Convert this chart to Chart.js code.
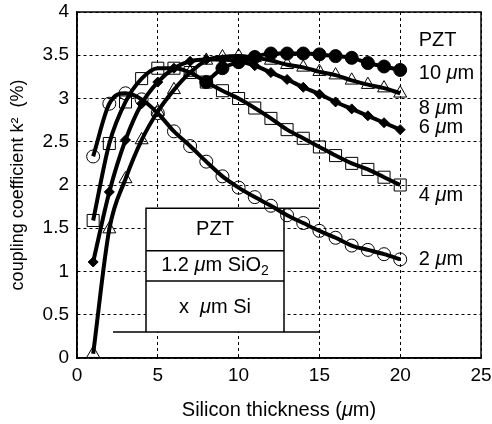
<!DOCTYPE html>
<html lang="en">
<head>
  <meta charset="UTF-8">
  <title>Coupling coefficient vs silicon thickness</title>
  <script src="https://cdn.jsdelivr.net/npm/chart.js@4.4.0/dist/chart.umd.min.js"></script>
  <style>
    html, body { margin: 0; padding: 0; background: #fff; }
    #wrap { width: 492px; height: 424px; }
  </style>
</head>
<body>
  <div id="wrap"><canvas id="k2Chart" width="492" height="424"></canvas></div>
  <script>
    // silicon thickness (um)
    const siThickness = [1, 2, 3, 4, 5, 6, 7, 8, 9, 10, 11, 12, 13, 14, 15, 16, 17, 18, 19, 20];

    // k^2 (%) for each PZT thickness
    const k2Pzt2 = [2.33, 2.94, 3.06, 2.99, 2.83, 2.62, 2.45, 2.27, 2.10, 1.97, 1.86, 1.76, 1.65, 1.56, 1.47, 1.39, 1.30, 1.25, 1.20, 1.14];
    const k2Pzt4 = [1.59, 2.48, 2.96, 3.23, 3.35, 3.35, 3.30, 3.19, 3.09, 3.00, 2.89, 2.77, 2.64, 2.54, 2.44, 2.34, 2.25, 2.18, 2.09, 2.00];
    const k2Pzt6 = [1.11, 1.92, 2.52, 2.94, 3.19, 3.35, 3.43, 3.45, 3.45, 3.43, 3.38, 3.30, 3.22, 3.13, 3.05, 2.96, 2.88, 2.80, 2.72, 2.64];
    const k2Pzt8 = [0.05, 1.49, 2.07, 2.52, 2.85, 3.10, 3.30, 3.44, 3.48, 3.49, 3.47, 3.44, 3.39, 3.36, 3.31, 3.27, 3.21, 3.16, 3.12, 3.06];
    const k2Pzt10 = [null, null, null, null, null, null, null, 3.19, 3.35, 3.42, 3.48, 3.52, 3.52, 3.52, 3.51, 3.49, 3.47, 3.41, 3.37, 3.33];

    const yTicks = [0, 0.5, 1, 1.5, 2, 2.5, 3, 3.5, 4];

    // curve labels at the right end: [text before mu, y value]
    const curveLabels = [["10 ", 3.29], ["8 ", 2.89], ["6 ", 2.66], ["4 ", 1.88], ["2 ", 1.14]];

    const FONT = "'Liberation Sans', Arial, Helvetica, sans-serif";

    function toPoints(ys) {
      return siThickness.map((x, i) => ({ x: x, y: ys[i] }));
    }

    function series(label, ys, style, radius, filled) {
      return {
        label: label,
        data: toPoints(ys),
        borderColor: "#000",
        borderWidth: 4,
        pointStyle: style,
        pointRadius: radius,
        pointBorderWidth: 1,
        pointBorderColor: "#000",
        pointBackgroundColor: filled ? "#000" : "rgba(0,0,0,0)",
        cubicInterpolationMode: "monotone",
        spanGaps: false
      };
    }

    // draws text pieces in a row, mu in italic, optional size / offset per piece
    function drawMixed(ctx, parts, x, y, size, align) {
      let total = 0;
      const fontOf = p => (p.italic ? "italic " : "") + (p.size || size) + "px " + FONT;
      parts.forEach(p => {
        ctx.font = fontOf(p);
        p.w = ctx.measureText(p.t).width;
        total += p.w;
      });
      let cx = align === "center" ? x - total / 2 : x;
      parts.forEach(p => {
        ctx.font = fontOf(p);
        ctx.textAlign = "left";
        ctx.fillText(p.t, cx, y + (p.dy || 0));
        cx += p.w;
      });
    }

    const framePlugin = {
      id: "frame",
      beforeDatasetsDraw(chart) {
        const ctx = chart.ctx;
        const xs = chart.scales.x, ys = chart.scales.y;
        // layer stack inset
        const L = xs.getPixelForValue(4.27), R = xs.getPixelForValue(12.81);
        const T = ys.getPixelForValue(1.73), B = ys.getPixelForValue(0.30);
        const d1 = ys.getPixelForValue(1.24), d2 = ys.getPixelForValue(0.89);
        const ext = xs.getPixelForValue(15), bl = xs.getPixelForValue(2.23);
        ctx.save();
        ctx.fillStyle = "#fff";
        ctx.fillRect(L, T, R - L, B - T);
        ctx.strokeStyle = "#000";
        ctx.lineWidth = 1.5;
        ctx.beginPath();
        ctx.moveTo(L, B); ctx.lineTo(L, T); ctx.lineTo(ext, T);
        ctx.moveTo(R, T); ctx.lineTo(R, B);
        ctx.moveTo(L, d1); ctx.lineTo(R, d1);
        ctx.moveTo(L, d2); ctx.lineTo(R, d2);
        ctx.moveTo(bl, B); ctx.lineTo(ext, B);
        ctx.stroke();
        ctx.fillStyle = "#000";
        ctx.textBaseline = "middle";
        const cx = (L + R) / 2;
        drawMixed(ctx, [{ t: "PZT" }], cx, (T + d1) / 2, 20, "center");
        drawMixed(ctx, [{ t: "1.2 " }, { t: "\u03bc", italic: true }, { t: "m SiO" }, { t: "2", dy: 5, size: 14 }], cx, (d1 + d2) / 2, 20, "center");
        drawMixed(ctx, [{ t: "x  " }, { t: "\u03bc", italic: true }, { t: "m Si" }], cx, (d2 + B) / 2 + 1, 20, "center");
        ctx.restore();
      },
      afterDraw(chart) {
        const ctx = chart.ctx;
        const a = chart.chartArea;
        const xs = chart.scales.x, ys = chart.scales.y;
        ctx.save();
        ctx.strokeStyle = "#000";
        ctx.lineWidth = 1.5;
        ctx.strokeRect(a.left, a.top, a.right - a.left, a.bottom - a.top);
        ctx.fillStyle = "#000";
        ctx.textBaseline = "middle";
        const lx = xs.getPixelForValue(21.15);
        drawMixed(ctx, [{ t: "PZT" }], lx, ys.getPixelForValue(3.67), 20, "left");
        curveLabels.forEach(([t, v]) => {
          drawMixed(ctx, [{ t: t }, { t: "\u03bc", italic: true }, { t: "m" }], lx, ys.getPixelForValue(v), 20, "left");
        });
        // x axis title with italic mu
        drawMixed(ctx, [{ t: "Silicon thickness (" }, { t: "\u03bc", italic: true }, { t: "m)" }], (a.left + a.right) / 2, 410, 20, "center");
        ctx.restore();
      }
    };

    new Chart(document.getElementById("k2Chart"), {
      type: "line",
      data: {
        datasets: [
          series("2 um", k2Pzt2, "circle", 6.5, false),
          series("4 um", k2Pzt4, "rect", 8.5, false),
          series("6 um", k2Pzt6, "rectRot", 5, true),
          series("8 um", k2Pzt8, "triangle", 7.5, false),
          series("10 um", k2Pzt10, "circle", 6.5, true)
        ]
      },
      options: {
        responsive: false,
        animation: false,
        layout: { padding: { top: 12, right: 11, left: 0, bottom: 0 } },
        plugins: { legend: { display: false }, tooltip: { enabled: false } },
        scales: {
          x: {
            type: "linear",
            min: 0, max: 25,
            ticks: { stepSize: 5, color: "#000", font: { family: FONT, size: 19 }, padding: 6, maxRotation: 0 },
            grid: { color: "#000", lineWidth: 1, drawTicks: false },
            border: { color: "#000", width: 1.5, dash: [3, 3] },
            title: { display: false },
            afterFit(scale) {
              scale.height = 66;
              scale.paddingLeft = 0;
              scale.paddingRight = 0;
            }
          },
          y: {
            min: 0, max: 4,
            afterBuildTicks(scale) { scale.ticks = yTicks.map(v => ({ value: v })); },
            ticks: { color: "#000", font: { family: FONT, size: 19 }, padding: 8, callback: v => String(v) },
            grid: { color: "#000", lineWidth: 1, drawTicks: false },
            border: { color: "#000", width: 1.5, dash: [3, 3] },
            title: { display: true, text: "coupling coefficient k\u00b2  (%)", color: "#000", font: { family: FONT, size: 18 }, padding: { top: 7, bottom: 0 } },
            afterFit(scale) {
              scale.width = 77;
              scale.paddingTop = 0;
              scale.paddingBottom = 0;
            }
          }
        }
      },
      plugins: [framePlugin]
    });
  </script>
</body>
</html>
